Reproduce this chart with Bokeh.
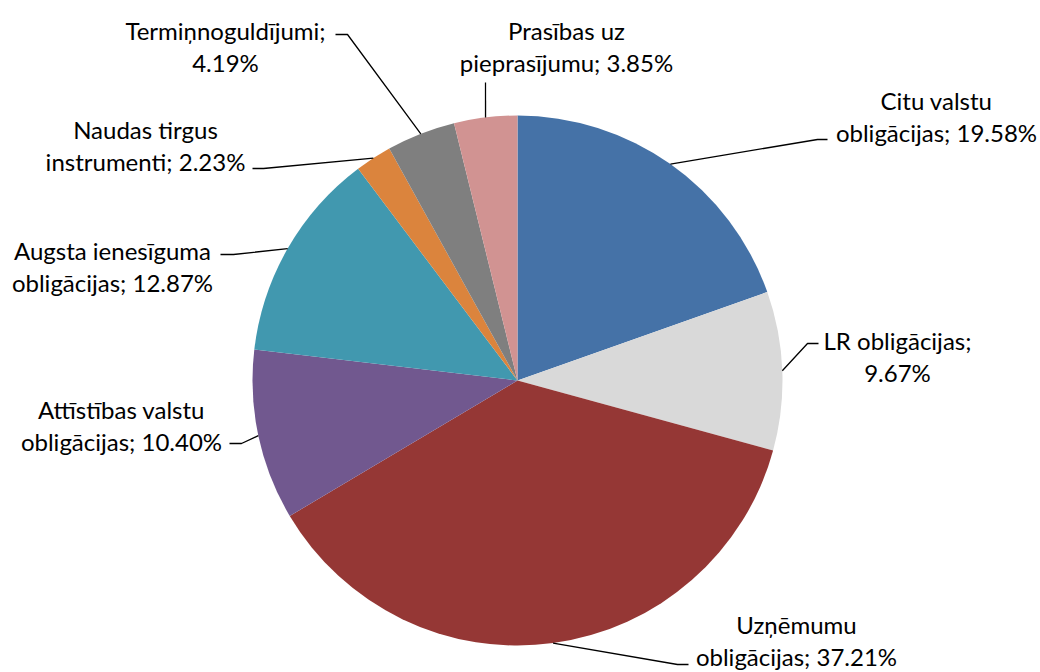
import math
from bokeh.plotting import figure
from bokeh.models import ColumnDataSource, Range1d
from bokeh.core.properties import value
from bokeh.embed import file_html
from bokeh.resources import INLINE

# ---- data ----
categories = [
    "Citu valstu obligācijas",
    "LR obligācijas",
    "Uzņēmumu obligācijas",
    "Attīstības valstu obligācijas",
    "Augsta ienesīguma obligācijas",
    "Naudas tirgus instrumenti",
    "Termiņnoguldījumi",
    "Prasības uz pieprasījumu",
]
shares = [19.58, 9.67, 37.21, 10.40, 12.87, 2.23, 4.19, 3.85]
colors = ["#4572A7", "#D9D9D9", "#953735", "#71588F",
          "#4198AF", "#DB843D", "#7F7F7F", "#D19392"]

# ---- layout (page pixel coordinates) ----
W, H = 1040, 672
CX, CY, R = 517, 380, 265
# number of words on the first label line
wrap_words = [2, 2, 1, 2, 2, 2, 1, 2]
label_pos = [(936, 116), (897, 356), (796, 640), (121, 425),
             (112, 266), (145, 145), (225, 46), (566, 46)]
elbows = [((817, 139), (827, 139)), ((807, 343), (818, 343)),
          ((677, 664), (688, 664)), ((241, 443), (229, 443)),
          ((233, 254), (220, 254)), ((263, 168), (252, 168)),
          ((347, 34), (335, 34)), ((485, 82), (485, 82))]


def dx(px):
    return px


def dy(py):
    return H - py


total = sum(shares)
starts, ends, mids = [], [], []
acc = 0.0
for s in shares:
    a0 = acc / total
    acc += s
    a1 = acc / total
    starts.append(math.pi / 2 - 2 * math.pi * a0)
    ends.append(math.pi / 2 - 2 * math.pi * a1)
    mids.append(math.pi / 2 - 2 * math.pi * (a0 + a1) / 2)

src = ColumnDataSource(dict(start=starts, end=ends, color=colors))

p = figure(width=W, height=H, output_backend="svg", toolbar_location=None,
           x_range=Range1d(0, W), y_range=Range1d(0, H), min_border=0)
p.axis.visible = False
p.grid.visible = False
p.outline_line_color = None
p.background_fill_color = "white"

p.wedge(x=dx(CX), y=dy(CY), radius=R, start_angle="start", end_angle="end",
        direction="clock", fill_color="color", line_color=None, source=src)

# leader lines
xs, ys = [], []
for m, (e1, e2) in zip(mids, elbows):
    sx = dx(CX) + R * math.cos(m)
    sy = dy(CY) + R * math.sin(m)
    xs.append([sx, dx(e1[0]), dx(e2[0])])
    ys.append([sy, dy(e1[1]), dy(e2[1])])
p.multi_line(xs=xs, ys=ys, line_color="black", line_width=1.3)

# labels
texts = []
for name, s, k in zip(categories, shares, wrap_words):
    words = (name + ";").split(" ") + [f"{s:.2f}%"]
    texts.append(" ".join(words[:k]) + "\n" + " ".join(words[k:]))
lsrc = ColumnDataSource(dict(x=[dx(a) for a, b in label_pos],
                             y=[dy(b) for a, b in label_pos], t=texts))
p.text(x="x", y="y", text="t", source=lsrc, text_align="center",
       text_baseline="middle", text_font=value("Lato"),
       text_font_size="24px", text_color="#000000", text_line_height=1.1)

open("out.html", "w").write(file_html(p, INLINE))
